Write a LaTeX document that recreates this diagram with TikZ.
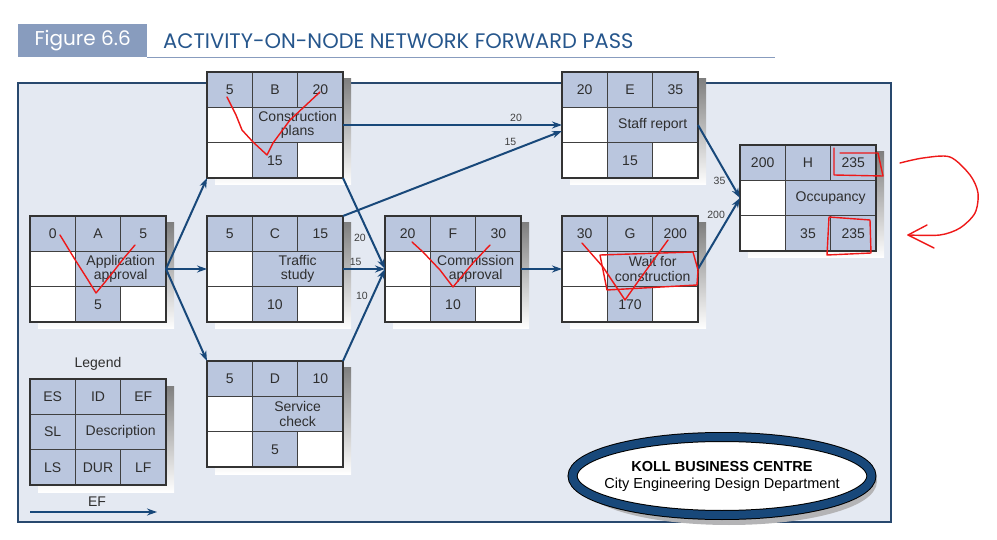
\documentclass[tikz,border=0pt]{standalone}
\usepackage{fontspec}
\setmainfont{Liberation Sans}
\newfontfamily\headfont{Poppins}
\usetikzlibrary{arrows.meta, shapes.geometric, positioning}

\definecolor{cellblue}{RGB}{186,198,222}
\definecolor{panelbg}{RGB}{228,233,242}
\definecolor{panelline}{RGB}{40,72,110}
\definecolor{netblue}{RGB}{24,72,122}
\definecolor{headbox}{RGB}{136,156,190}
\definecolor{titleblue}{RGB}{38,86,140}
\definecolor{shade}{RGB}{180,180,182}
\definecolor{penred}{RGB}{238,24,24}

\tikzset{
  link/.style={-{Stealth[length=10pt,width=7pt]}, netblue, line width=2pt},
  lag/.style={font=\fontsize{10.5}{12}\selectfont, text=black!75, inner sep=1pt},
  cell/.style={font=\fontsize{14}{14.5}\selectfont, text=black!82, inner sep=0pt},
  blank/.style={fill=white},
  badge/.style={ellipse, minimum width=286pt, minimum height=78pt, inner xsep=-12pt, inner ysep=0pt,
    line width=1pt, double distance=8pt, align=center, font=\fontsize{14.5}{17}\selectfont},
  ink/.style={penred, line width=1.4pt, line join=round, line cap=round},
}

% one activity box: name, x, y, ES, ID, EF, description, DUR, LF
\newcommand{\aonbox}[9]{%
  \begin{scope}[shift={(#2,#3)}]
    \fill[shade] (8,7) rectangle (144,113);
    \fill[blank] (0,0) rectangle (136,106);
    \fill[cellblue] (0,0) rectangle (136,35.33);
    \fill[cellblue] (45.33,35.33) rectangle (136,70.67);
    \fill[cellblue] (45.33,70.67) rectangle (90.67,106);
    \if\relax\detokenize{#9}\relax\else\fill[cellblue] (90.67,70.67) rectangle (136,106);\fi
    \draw[black!75, line width=0.8pt] (0,35.33) -- (136,35.33) (0,70.67) -- (136,70.67)
      (45.33,0) -- (45.33,106) (90.67,0) -- (90.67,35.33) (90.67,70.67) -- (90.67,106);
    \draw[black!80, line width=1.6pt] (0,0) rectangle (136,106);
    \node[cell] at (22.67,17.67) {#4};
    \node[cell] at (68,17.67) {#5};
    \node[cell] at (113.33,17.67) {#6};
    \node[cell, align=center] at (90.67,53) {#7};
    \node[cell] at (68,88.33) {#8};
    \node[cell] at (113.33,88.33) {#9};
    \node[minimum width=136pt, minimum height=106pt, inner sep=0pt, outer sep=0pt, anchor=north west] (#1) at (0,0) {};
  \end{scope}}

\begin{document}
\begin{tikzpicture}[x=1pt, y=-1pt]
  \useasboundingbox (0,0) rectangle (997,540);

  % heading
  \node[fill=headbox, minimum width=129pt, minimum height=33pt, inner sep=0pt, anchor=north west,
        text=white, font=\headfont\fontsize{20}{22}\selectfont] (fignum) at (18,24) {Figure 6.6};
  \node[anchor=west, inner sep=0pt, text=titleblue, font=\headfont\fontsize{21}{23}\selectfont] (figtitle) at (163,41) {ACTIVITY-ON-NODE NETWORK FORWARD PASS};
  \draw[headbox, line width=1.5pt] (fignum.south east) -- ++(628,0);

  % panel
  \draw[panelline, line width=1.2pt, fill=panelbg] (18,83) rectangle (891,522);

  % activities
  \aonbox{A}{30}{216}{0}{A}{5}{Application\\approval}{5}{}
  \aonbox{B}{207}{72}{5}{B}{20}{Construction\\plans}{15}{}
  \aonbox{C}{207}{216}{5}{C}{15}{Traffic\\study}{10}{}
  \aonbox{D}{207}{361}{5}{D}{10}{Service\\check}{5}{}
  \aonbox{F}{385}{216}{20}{F}{30}{Commission\\approval}{10}{}
  \aonbox{E}{562}{72}{20}{E}{35}{Staff report}{15}{}
  \aonbox{G}{562}{216}{30}{G}{200}{Wait for\\construction}{170}{}
  \aonbox{H}{740}{145}{200}{H}{235}{Occupancy}{35}{235}

  % legend
  \node[cell] (legendtitle) at (98,364) {Legend};
  \begin{scope}[blank/.style={fill=cellblue}]
    \aonbox{legend}{30}{379}{ES}{ID}{EF}{Description}{DUR}{LF}
  \end{scope}
  \node[cell] (sl) at (52.67,432) {SL};
  \node[cell] (ls) at (52.67,467.33) {LS};
  \node[cell] (efkey) at (97,502) {EF};
  \coordinate (keystart) at (30,512);
  \coordinate (keyend) at (157,512);
  \draw[link] (keystart) -- (keyend);

  % project badge
  \node[badge, fill=shade, draw=shade, double=shade] (kollshadow) at (729,481) {};
  \node[badge, fill=white, draw=black, double=netblue] (koll) at (722,476)
        {\textbf{KOLL BUSINESS CENTRE}\\City Engineering Design Department};

  % connectors
  \draw[link] (A.east) -- (B.south west);
  \draw[link] (A.east) -- (C.west);
  \draw[link] (A.east) -- (D.north west);
  \draw[link] (B.east) -- node[lag, pos=0.79, above=1pt] {20} (E.west);
  \draw[link] (B.south east) -- node[lag, pos=0.66, left=3pt] {20} (F.west);
  \draw[link] (C.north east) -- node[lag, pos=0.8, above left=0pt] {15} ([yshift=-6pt]E.west);
  \draw[link] (C.east) -- node[lag, pos=0.3, above=1pt] {15} (F.west);
  \draw[link] (D.north east) -- node[lag, pos=0.71, left=3pt] {10} (F.west);
  \draw[link] (F.east) -- (G.west);
  \draw[link] (E.east) -- node[lag, pos=0.77, left=3pt] {35} (H.west);
  \draw[link] (G.east) -- node[lag, pos=0.76, left=3pt] {200} (H.west);

  % hand marks
  \draw[ink] (60,235) -- (74,258) -- (88,280) -- (96,293) -- (110,276) -- (124,258) -- (135,245);
  \draw[ink] (227,97) -- (236,115) -- (242,130) -- (253,142) -- (267,155) -- (273,143) -- (290,120) -- (320,92);
  \draw[ink] (412,242) -- (423,252) -- (440,270) -- (453,287) -- (473,263) -- (490,245);
  \draw[ink] (582,243) -- (603,267) -- (615,285) -- (625,300) -- (637,283) -- (668,240);
  \draw[ink] (600,255) -- (693,252) -- (698,270) -- (697,285) -- (607,290) -- (600,255);
  \draw[ink] (834,148) -- (834,175) -- (883,176) -- (878,153) -- (840,153);
  \draw[ink] (829,217) -- (870,220) -- (871,253) -- (827,255) -- (829,217);
  \draw[ink] plot[smooth] coordinates {(900,163) (923,158) (950,157) (970,175) (978,193) (975,213) (960,228) (940,235) (908,235)};
  \draw[ink] (927,225) -- (908,235) -- (934,248);
\end{tikzpicture}
\end{document}
